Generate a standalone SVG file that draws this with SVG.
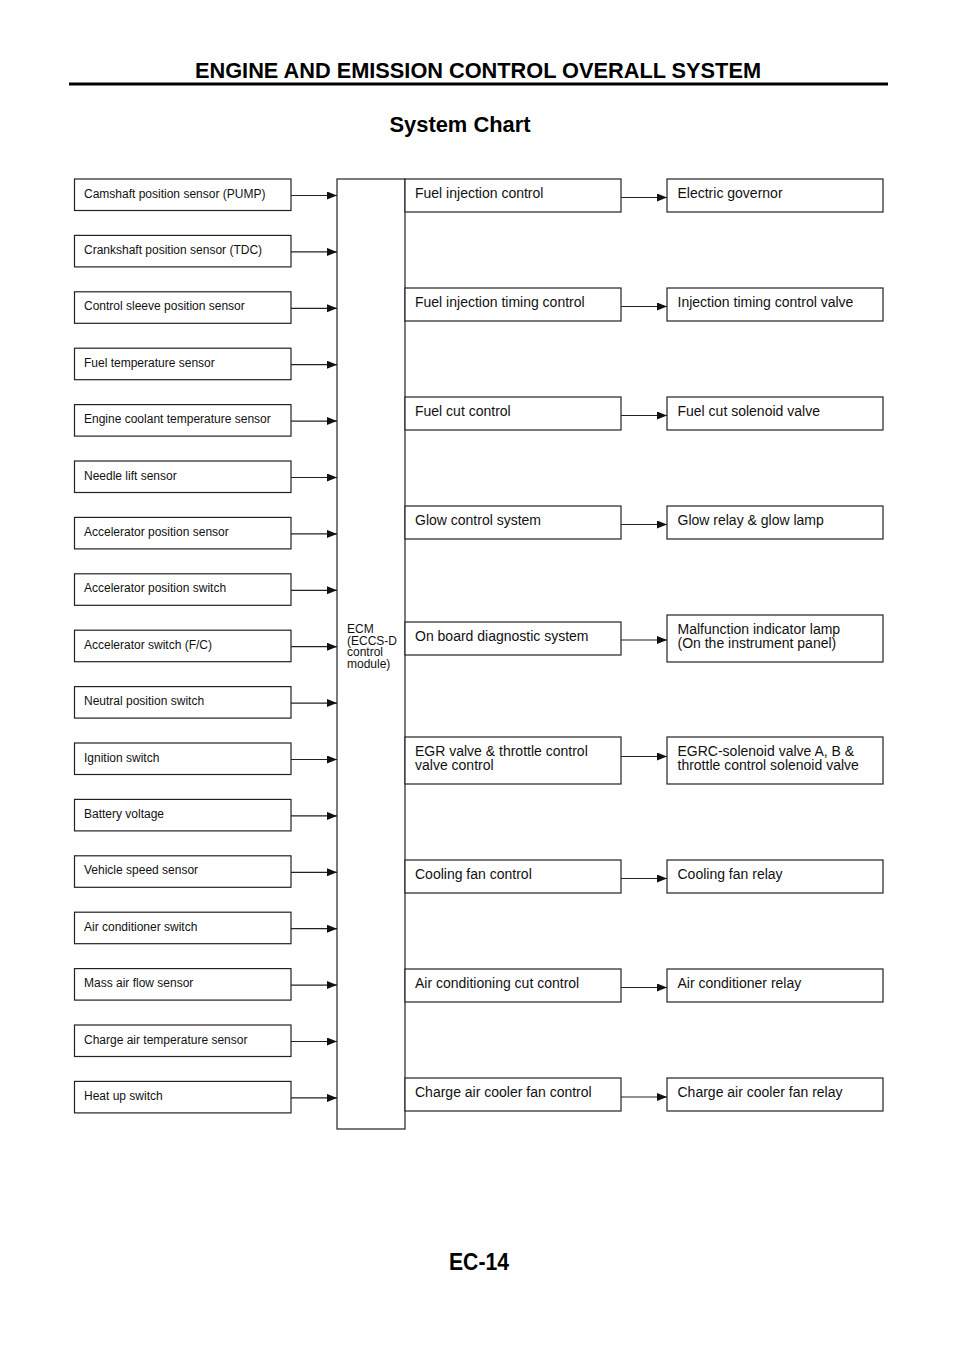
<svg xmlns="http://www.w3.org/2000/svg" width="960" height="1358" viewBox="0 0 960 1358">
<style>
.box{fill:#fff;stroke:#222;stroke-width:1.2}
.conn{stroke:#222;stroke-width:1.2;fill:none}
.ls{font-family:"Liberation Sans",Arial,sans-serif;font-size:12px;fill:#111}
.ms{font-family:"Liberation Sans",Arial,sans-serif;font-size:14px;fill:#111}
.hd{font-family:"Liberation Sans",Arial,sans-serif;font-weight:bold;fill:#000}
</style>
<defs>
<marker id="ah" markerUnits="userSpaceOnUse" markerWidth="11" markerHeight="9" refX="10" refY="4" orient="auto">
<path d="M0,0 L10,4 L0,8 z" fill="#111"/>
</marker>
</defs>
<rect width="960" height="1358" fill="#fff"/>
<g id="header">
<text class="hd" x="478" y="78" font-size="22" text-anchor="middle" textLength="566" lengthAdjust="spacingAndGlyphs">ENGINE AND EMISSION CONTROL OVERALL SYSTEM</text>
<line x1="69" y1="84" x2="888" y2="84" stroke="#000" stroke-width="3"/>
<text class="hd" x="460" y="132" font-size="22" text-anchor="middle" textLength="141" lengthAdjust="spacingAndGlyphs">System Chart</text>
<text class="hd" x="479" y="1270" font-size="23" text-anchor="middle" textLength="60" lengthAdjust="spacingAndGlyphs">EC-14</text>
</g>
<g id="inputs">
<g id="in1" transform="translate(74.5,179)"><rect class="box" width="216.5" height="31.5"/><text class="ls" x="9.5" y="18.5">Camshaft position sensor (PUMP)</text></g>
<g id="in2" transform="translate(74.5,235.4)"><rect class="box" width="216.5" height="31.5"/><text class="ls" x="9.5" y="18.5">Crankshaft position sensor (TDC)</text></g>
<g id="in3" transform="translate(74.5,291.8)"><rect class="box" width="216.5" height="31.5"/><text class="ls" x="9.5" y="18.5">Control sleeve position sensor</text></g>
<g id="in4" transform="translate(74.5,348.2)"><rect class="box" width="216.5" height="31.5"/><text class="ls" x="9.5" y="18.5">Fuel temperature sensor</text></g>
<g id="in5" transform="translate(74.5,404.6)"><rect class="box" width="216.5" height="31.5"/><text class="ls" x="9.5" y="18.5">Engine coolant temperature sensor</text></g>
<g id="in6" transform="translate(74.5,461)"><rect class="box" width="216.5" height="31.5"/><text class="ls" x="9.5" y="18.5">Needle lift sensor</text></g>
<g id="in7" transform="translate(74.5,517.4)"><rect class="box" width="216.5" height="31.5"/><text class="ls" x="9.5" y="18.5">Accelerator position sensor</text></g>
<g id="in8" transform="translate(74.5,573.8)"><rect class="box" width="216.5" height="31.5"/><text class="ls" x="9.5" y="18.5">Accelerator position switch</text></g>
<g id="in9" transform="translate(74.5,630.2)"><rect class="box" width="216.5" height="31.5"/><text class="ls" x="9.5" y="18.5">Accelerator switch (F/C)</text></g>
<g id="in10" transform="translate(74.5,686.6)"><rect class="box" width="216.5" height="31.5"/><text class="ls" x="9.5" y="18.5">Neutral position switch</text></g>
<g id="in11" transform="translate(74.5,743)"><rect class="box" width="216.5" height="31.5"/><text class="ls" x="9.5" y="18.5">Ignition switch</text></g>
<g id="in12" transform="translate(74.5,799.4)"><rect class="box" width="216.5" height="31.5"/><text class="ls" x="9.5" y="18.5">Battery voltage</text></g>
<g id="in13" transform="translate(74.5,855.8)"><rect class="box" width="216.5" height="31.5"/><text class="ls" x="9.5" y="18.5">Vehicle speed sensor</text></g>
<g id="in14" transform="translate(74.5,912.2)"><rect class="box" width="216.5" height="31.5"/><text class="ls" x="9.5" y="18.5">Air conditioner switch</text></g>
<g id="in15" transform="translate(74.5,968.6)"><rect class="box" width="216.5" height="31.5"/><text class="ls" x="9.5" y="18.5">Mass air flow sensor</text></g>
<g id="in16" transform="translate(74.5,1025)"><rect class="box" width="216.5" height="31.5"/><text class="ls" x="9.5" y="18.5">Charge air temperature sensor</text></g>
<g id="in17" transform="translate(74.5,1081.4)"><rect class="box" width="216.5" height="31.5"/><text class="ls" x="9.5" y="18.5">Heat up switch</text></g>
</g>
<g id="ecm">
<rect class="box" x="337" y="179" width="68" height="950"/>
<text class="ls" x="347" y="633">ECM</text>
<text class="ls" x="347" y="644.5">(ECCS-D</text>
<text class="ls" x="347" y="656">control</text>
<text class="ls" x="347" y="667.5">module)</text>
</g>
<g id="functions">
<g id="f1" transform="translate(405,179)"><rect class="box" width="216" height="33"/><text class="ms" x="10" y="19">Fuel injection control</text></g>
<g id="f2" transform="translate(405,288)"><rect class="box" width="216" height="33"/><text class="ms" x="10" y="19">Fuel injection timing control</text></g>
<g id="f3" transform="translate(405,397)"><rect class="box" width="216" height="33"/><text class="ms" x="10" y="19">Fuel cut control</text></g>
<g id="f4" transform="translate(405,506)"><rect class="box" width="216" height="33"/><text class="ms" x="10" y="19">Glow control system</text></g>
<g id="f5" transform="translate(405,622)"><rect class="box" width="216" height="33"/><text class="ms" x="10" y="19">On board diagnostic system</text></g>
<g id="f6" transform="translate(405,737)"><rect class="box" width="216" height="47"/><text class="ms" x="10" y="19">EGR valve &amp; throttle control</text><text class="ms" x="10" y="33">valve control</text></g>
<g id="f7" transform="translate(405,860)"><rect class="box" width="216" height="33"/><text class="ms" x="10" y="19">Cooling fan control</text></g>
<g id="f8" transform="translate(405,969)"><rect class="box" width="216" height="33"/><text class="ms" x="10" y="19">Air conditioning cut control</text></g>
<g id="f9" transform="translate(405,1078)"><rect class="box" width="216" height="33"/><text class="ms" x="10" y="19">Charge air cooler fan control</text></g>
</g>
<g id="actuators">
<g id="a1" transform="translate(667,179)"><rect class="box" width="216" height="33"/><text class="ms" x="10.5" y="19">Electric governor</text></g>
<g id="a2" transform="translate(667,288)"><rect class="box" width="216" height="33"/><text class="ms" x="10.5" y="19">Injection timing control valve</text></g>
<g id="a3" transform="translate(667,397)"><rect class="box" width="216" height="33"/><text class="ms" x="10.5" y="19">Fuel cut solenoid valve</text></g>
<g id="a4" transform="translate(667,506)"><rect class="box" width="216" height="33"/><text class="ms" x="10.5" y="19">Glow relay &amp; glow lamp</text></g>
<g id="a5" transform="translate(667,615)"><rect class="box" width="216" height="47"/><text class="ms" x="10.5" y="19">Malfunction indicator lamp</text><text class="ms" x="10.5" y="32.5">(On the instrument panel)</text></g>
<g id="a6" transform="translate(667,737)"><rect class="box" width="216" height="47"/><text class="ms" x="10.5" y="19">EGRC-solenoid valve A, B &amp;</text><text class="ms" x="10.5" y="33">throttle control solenoid valve</text></g>
<g id="a7" transform="translate(667,860)"><rect class="box" width="216" height="33"/><text class="ms" x="10.5" y="19">Cooling fan relay</text></g>
<g id="a8" transform="translate(667,969)"><rect class="box" width="216" height="33"/><text class="ms" x="10.5" y="19">Air conditioner relay</text></g>
<g id="a9" transform="translate(667,1078)"><rect class="box" width="216" height="33"/><text class="ms" x="10.5" y="19">Charge air cooler fan relay</text></g>
</g>
<g id="connectors" class="conn">
<line x1="291" y1="195.5" x2="337" y2="195.5" marker-end="url(#ah)"/>
<line x1="291" y1="251.9" x2="337" y2="251.9" marker-end="url(#ah)"/>
<line x1="291" y1="308.3" x2="337" y2="308.3" marker-end="url(#ah)"/>
<line x1="291" y1="364.7" x2="337" y2="364.7" marker-end="url(#ah)"/>
<line x1="291" y1="421.1" x2="337" y2="421.1" marker-end="url(#ah)"/>
<line x1="291" y1="477.5" x2="337" y2="477.5" marker-end="url(#ah)"/>
<line x1="291" y1="533.9" x2="337" y2="533.9" marker-end="url(#ah)"/>
<line x1="291" y1="590.3" x2="337" y2="590.3" marker-end="url(#ah)"/>
<line x1="291" y1="646.7" x2="337" y2="646.7" marker-end="url(#ah)"/>
<line x1="291" y1="703.1" x2="337" y2="703.1" marker-end="url(#ah)"/>
<line x1="291" y1="759.5" x2="337" y2="759.5" marker-end="url(#ah)"/>
<line x1="291" y1="815.9" x2="337" y2="815.9" marker-end="url(#ah)"/>
<line x1="291" y1="872.3" x2="337" y2="872.3" marker-end="url(#ah)"/>
<line x1="291" y1="928.7" x2="337" y2="928.7" marker-end="url(#ah)"/>
<line x1="291" y1="985.1" x2="337" y2="985.1" marker-end="url(#ah)"/>
<line x1="291" y1="1041.5" x2="337" y2="1041.5" marker-end="url(#ah)"/>
<line x1="291" y1="1097.9" x2="337" y2="1097.9" marker-end="url(#ah)"/>
<line x1="621" y1="197.5" x2="667" y2="197.5" marker-end="url(#ah)"/>
<line x1="621" y1="306.5" x2="667" y2="306.5" marker-end="url(#ah)"/>
<line x1="621" y1="415.5" x2="667" y2="415.5" marker-end="url(#ah)"/>
<line x1="621" y1="524.5" x2="667" y2="524.5" marker-end="url(#ah)"/>
<line x1="621" y1="640" x2="667" y2="640" marker-end="url(#ah)"/>
<line x1="621" y1="756.5" x2="667" y2="756.5" marker-end="url(#ah)"/>
<line x1="621" y1="878.5" x2="667" y2="878.5" marker-end="url(#ah)"/>
<line x1="621" y1="987.5" x2="667" y2="987.5" marker-end="url(#ah)"/>
<line x1="621" y1="1097" x2="667" y2="1097" marker-end="url(#ah)"/>
</g>
</svg>
